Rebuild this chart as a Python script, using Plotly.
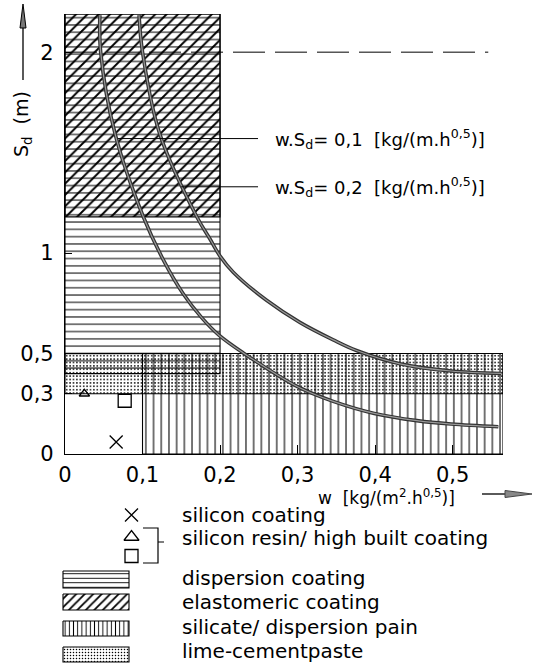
import plotly.graph_objects as go

# ---------------- data ----------------
region_names = ["lime-cementpaste", "silicate/ dispersion pain", "dispersion coating", "elastomeric coating"]
region_x0 = [0.0, 0.1, 0.0, 0.0]
region_x1 = [0.565, 0.565, 0.2, 0.2]
region_y0 = [0.3, 0.0, 0.4, 1.18]
region_y1 = [0.5, 0.5, 2.19, 2.19]

# curve w.Sd = 0,1
c1_w = [0.045, 0.046, 0.0645, 0.101, 0.127, 0.152, 0.176, 0.199, 0.230, 0.300, 0.346, 0.399, 0.454, 0.498, 0.559]
c1_sd = [2.184, 2.001, 1.595, 1.181, 0.965, 0.800, 0.680, 0.590, 0.503, 0.335, 0.262, 0.202, 0.166, 0.149, 0.136]
# curve w.Sd = 0,2
c2_w = [0.0955, 0.100, 0.122, 0.170, 0.187, 0.200, 0.217, 0.260, 0.303, 0.346, 0.376, 0.432, 0.498, 0.563]
c2_sd = [2.184, 2.001, 1.596, 1.181, 1.070, 0.985, 0.905, 0.765, 0.655, 0.568, 0.515, 0.449, 0.413, 0.401]

# products
prod_names = ["silicon coating", "silicon resin/ high built coating", "silicon resin/ high built coating"]
prod_symbols = ["x-thin-open", "triangle-up-open", "square-open"]
prod_w = [0.066, 0.025, 0.077]
prod_sd = [0.06, 0.30, 0.265]

limit_sd = 2.0
limit_w_end = 0.546

x_tickvals = [0, 0.1, 0.2, 0.3, 0.4, 0.5]
x_ticktext = ["0", "0,1", "0,2", "0,3", "0,4", "0,5"]
y_tickvals = [0, 0.3, 0.5, 1, 2]
y_ticktext = ["0", "0,3", "0,5", "1", "2"]

curve_labels = ["w.S<sub>d</sub>= 0,1  [kg/(m.h<sup>0,5</sup>)]",
                "w.S<sub>d</sub>= 0,2  [kg/(m.h<sup>0,5</sup>)]"]
curve_label_sd = [1.57, 1.33]
curve_label_start = [0.068, 0.150]

legend_texts = ["silicon coating", "silicon resin/ high built coating",
                "dispersion coating", "elastomeric coating",
                "silicate/ dispersion pain", "lime-cementpaste"]

# ---------------- styles ----------------
W, H = 534, 664
FONT = "DejaVu Sans"
patterns = {
    "lime-cementpaste": dict(shape=".", size=3.4, solidity=0.2),
    "silicate/ dispersion pain": dict(shape="|", size=7.7, solidity=0.14),
    "dispersion coating": dict(shape="-", size=7.3, solidity=0.14),
    "elastomeric coating": dict(shape="/", size=8, solidity=0.24),
}
legend_patterns = {
    "dispersion coating": dict(shape="-", size=4.5, solidity=0.2),
    "elastomeric coating": dict(shape="/", size=6, solidity=0.3),
    "silicate/ dispersion pain": dict(shape="|", size=4.2, solidity=0.22),
    "lime-cementpaste": dict(shape=".", size=3, solidity=0.2),
}

fig = go.Figure()

# regions
for n, x0, x1, y0, y1 in zip(region_names, region_x0, region_x1, region_y0, region_y1):
    p = patterns[n]
    fig.add_trace(go.Scatter(
        x=[x0, x1, x1, x0, x0], y=[y0, y0, y1, y1, y0], mode="lines",
        fill="toself", fillcolor="rgba(0,0,0,0)",
        fillpattern=dict(shape=p["shape"], size=p["size"], solidity=p["solidity"],
                         fgcolor="black", bgcolor="rgba(0,0,0,0)", fillmode="replace"),
        line=dict(color="black", width=1.1), hoverinfo="skip", showlegend=False,
        xaxis="x", yaxis="y"))

# limit dashed line
fig.add_trace(go.Scatter(x=[0, limit_w_end], y=[limit_sd, limit_sd], mode="lines",
                         line=dict(color="black", width=1, dash="32px,10px"),
                         showlegend=False, hoverinfo="skip"))

# curves (double-line look)
for cw, cs in [(c1_w, c1_sd), (c2_w, c2_sd)]:
    fig.add_trace(go.Scatter(x=cw, y=cs, mode="lines",
                             line=dict(color="#333333", width=3.6, shape="spline", smoothing=1.0),
                             showlegend=False, hoverinfo="skip", cliponaxis=False))
    fig.add_trace(go.Scatter(x=cw, y=cs, mode="lines",
                             line=dict(color="#9a9a9a", width=1.2, shape="spline", smoothing=1.0),
                             showlegend=False, hoverinfo="skip", cliponaxis=False))

# leader lines to the curve labels
for sd, x0 in zip(curve_label_sd, curve_label_start):
    fig.add_trace(go.Scatter(x=[x0, 0.249], y=[sd, sd], mode="lines",
                             line=dict(color="black", width=1), showlegend=False, hoverinfo="skip"))

# products
for s, xw, ys in zip(prod_symbols, prod_w, prod_sd):
    fig.add_trace(go.Scatter(x=[xw], y=[ys], mode="markers",
                             marker=dict(symbol=s, size=13 if s != "triangle-up-open" else 9,
                                         color="black", line=dict(color="black", width=1.3)),
                             showlegend=False, hoverinfo="skip", cliponaxis=False))

# ---------------- legend (pixel overlay axes) ----------------
leg_sym_y = [515, 537, 556]
for s, yy in zip(prod_symbols, leg_sym_y):
    fig.add_trace(go.Scatter(x=[131.5], y=[yy], mode="markers", xaxis="x3", yaxis="y3",
                             marker=dict(symbol=s, size=13, color="black",
                                         line=dict(color="black", width=1.3)),
                             showlegend=False, hoverinfo="skip", cliponaxis=False))

leg_box_names = ["dispersion coating", "elastomeric coating", "silicate/ dispersion pain", "lime-cementpaste"]
leg_box_y = [(571, 588), (594, 610), (621, 636), (647, 662)]
for n, (ya, yb) in zip(leg_box_names, leg_box_y):
    p = legend_patterns[n]
    fig.add_trace(go.Scatter(
        x=[63, 129, 129, 63, 63], y=[ya, ya, yb, yb, ya], mode="lines", xaxis="x3", yaxis="y3",
        fill="toself", fillcolor="rgba(0,0,0,0)",
        fillpattern=dict(shape=p["shape"], size=p["size"], solidity=p["solidity"],
                         fgcolor="black", bgcolor="rgba(0,0,0,0)", fillmode="replace"),
        line=dict(color="black", width=1.1), showlegend=False, hoverinfo="skip"))

annotations = []
leg_text_y = [515, 538, 578, 602, 627, 651]
for t, yy in zip(legend_texts, leg_text_y):
    annotations.append(dict(x=180, y=yy, xref="x3", yref="y3", text=t, showarrow=False,
                            xanchor="left", yanchor="middle",
                            font=dict(family=FONT, size=20, color="black")))

for t, sd in zip(curve_labels, curve_label_sd):
    annotations.append(dict(x=0.268, y=sd, xref="x", yref="y", text=t, showarrow=False,
                            xanchor="left", yanchor="middle",
                            font=dict(family=FONT, size=18, color="black")))

# axis titles
annotations.append(dict(x=316, y=497, xref="x3", yref="y3",
                        text="w  [kg/(m<sup>2</sup>.h<sup>0,5</sup>)]", showarrow=False,
                        xanchor="left", yanchor="middle",
                        font=dict(family=FONT, size=17, color="black")))
annotations.append(dict(x=22, y=124, xref="x3", yref="y3", text="S<sub>d</sub>  (m)",
                        showarrow=False, textangle=-90, xanchor="center", yanchor="middle",
                        font=dict(family=FONT, size=19, color="black")))

shapes = [
    # y arrow
    dict(type="line", xref="x3", yref="y3", x0=23, x1=23, y0=80, y1=22,
         line=dict(color="black", width=1.3)),
    dict(type="path", xref="x3", yref="y3", path="M 20,28 L 23,4 L 26,28 Z",
         fillcolor="#777777", line=dict(color="black", width=1)),
    # x arrow
    dict(type="line", xref="x3", yref="y3", x0=482, x1=508, y0=494, y1=494,
         line=dict(color="black", width=1.3)),
    dict(type="path", xref="x3", yref="y3", path="M 505,490.5 L 532,494 L 505,497.5 Z",
         fillcolor="#888888", line=dict(color="#444444", width=1)),
    # bracket
    dict(type="path", xref="x3", yref="y3",
         path="M 143,528 L 158,528 L 158,563 L 143,563 M 158,542 L 164,542",
         line=dict(color="black", width=1.2)),
]

fig.update_layout(
    width=W, height=H, margin=dict(l=0, r=0, t=0, b=0),
    paper_bgcolor="white", plot_bgcolor="rgba(0,0,0,0)",
    showlegend=False, annotations=annotations, shapes=shapes,
    xaxis=dict(domain=[65 / W, 503 / W], range=[0, 0.565], anchor="y",
               showline=True, linecolor="black", linewidth=1.2, mirror=False,
               ticks="inside", ticklen=9, tickcolor="black", tickwidth=1.2,
               tickvals=x_tickvals, ticktext=x_ticktext, showgrid=False, zeroline=False,
               ticklabelstandoff=2,
               tickfont=dict(family=FONT, size=21, color="black"), automargin=False,
               fixedrange=True),
    yaxis=dict(domain=[1 - 454 / H, 1 - 14 / H], range=[0, 2.19], anchor="x",
               showline=True, linecolor="black", linewidth=1.2, mirror=False,
               ticks="inside", ticklen=7, tickcolor="black", tickwidth=1.2,
               tickvals=y_tickvals, ticktext=y_ticktext, showgrid=False, zeroline=False,
               ticklabelstandoff=6,
               tickfont=dict(family=FONT, size=21, color="black"), automargin=False,
               fixedrange=True),
    xaxis3=dict(domain=[0, 1], range=[0, W], anchor="y3", visible=False, fixedrange=True),
    yaxis3=dict(domain=[0, 1], range=[H, 0], anchor="x3", visible=False, fixedrange=True),
)

fig.write_html("out.html")
